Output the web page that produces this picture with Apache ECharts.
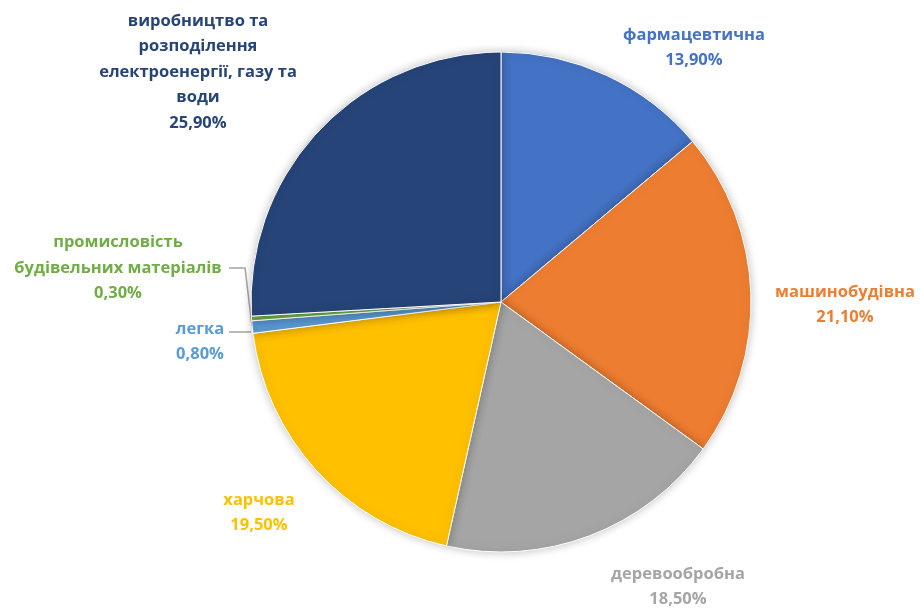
<!DOCTYPE html>
<html>
<head>
<meta charset="utf-8">
<script src="https://cdn.jsdelivr.net/npm/echarts@6/dist/echarts.min.js"></script>
<style>html,body{margin:0;padding:0;background:#fff}#c{width:921px;height:608px}</style>
</head>
<body>
<div id="c"></div>
<script>
const categories = [
  "фармацевтична",
  "машинобудівна",
  "деревообробна",
  "харчова",
  "легка",
  "промисловість\nбудівельних матеріалів",
  "виробництво та\nрозподілення\nелектроенергії, газу та\nводи"
];
const values = [13.9, 21.1, 18.5, 19.5, 0.8, 0.3, 25.9];
const colors = ["#4472C4", "#ED7D31", "#A5A5A5", "#FFC000", "#5B9BD5", "#70AD47", "#264478"];
// label anchor (center) positions
const labelPos = [[694, 48], [845, 305], [678, 587], [259, 513], [200, 342], [118, 268], [198, 72]];
const showLine = [false, false, false, false, true, true, false];
const linePts = [null, null, null, null, [[251, 332], [240, 332], [229, 332]], [[252, 326], [245, 268], [229, 268]], null];

const chart = echarts.init(document.getElementById('c'));
chart.setOption({
  animation: false,
  series: [{
    type: 'pie',
    center: [501, 302],
    radius: 250,
    startAngle: 90,
    clockwise: true,
    itemStyle: { borderColor: '#fff', borderWidth: 1, shadowBlur: 10, shadowColor: 'rgba(0,0,0,0.25)' },
    data: categories.map((n, i) => ({
      name: n,
      value: values[i],
      itemStyle: { color: colors[i] },
      label: { color: colors[i] },
      labelLine: { show: showLine[i] }
    })),
    label: {
      show: true,
      position: 'outside',
      overflow: 'none',
      fontFamily: 'Open Sans',
      fontWeight: 'bold',
      fontSize: 16.5,
      lineHeight: 25.5,
      align: 'center',
      formatter: p => p.name + '\n' + p.value.toFixed(2).replace('.', ',') + '%'
    },
    labelLine: { lineStyle: { color: '#A5A5A5', width: 1.5 } },
    labelLayout: function (params) {
      const i = params.dataIndex;
      const r = { x: labelPos[i][0], y: labelPos[i][1], align: 'center', verticalAlign: 'middle' };
      if (linePts[i]) r.labelLinePoints = linePts[i];
      return r;
    }
  }]
});
</script>
</body>
</html>
